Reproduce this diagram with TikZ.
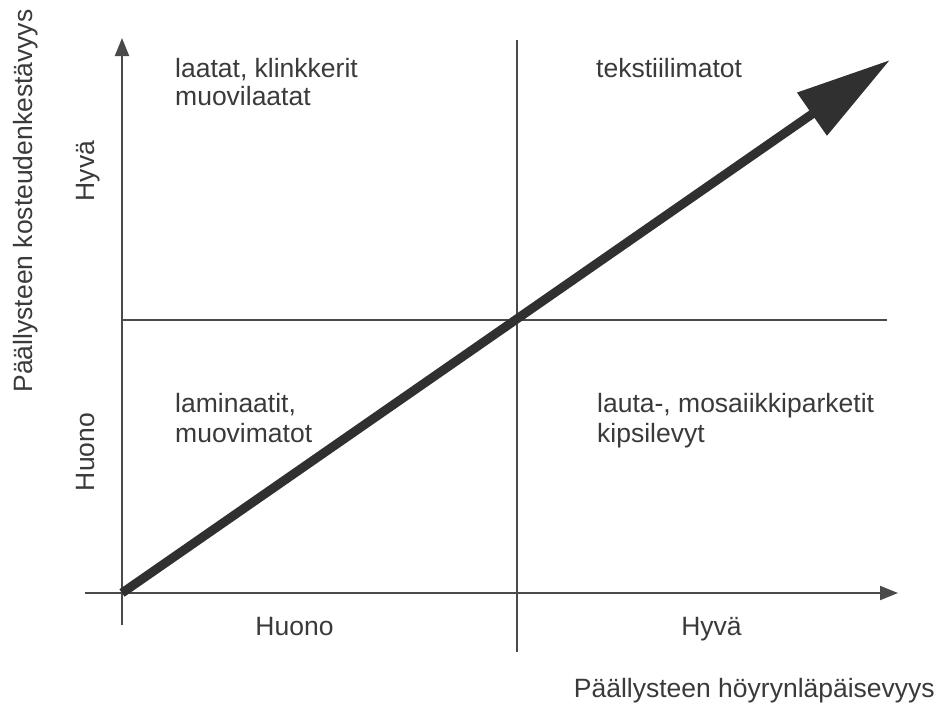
\documentclass[tikz,border=0pt]{standalone}
\usepackage{fontspec}
\setmainfont{Liberation Sans}
\usetikzlibrary{arrows.meta}
\definecolor{txt}{HTML}{3A3A3A}
\definecolor{ln}{HTML}{4A4A4A}
\definecolor{trendc}{HTML}{303030}
\begin{document}
\begin{tikzpicture}[x=1pt,y=-1pt,
  lbl/.style={font=\fontsize{26.5}{30}\selectfont, text=txt, inner sep=0pt},
  axis/.style={draw=ln, line width=2pt, -{Triangle[length=18pt,width=14pt]}},
  gridline/.style={draw=ln, line width=1.6pt},
  trend/.style={draw=trendc, line width=9pt, -{Triangle[length=95pt,width=50pt]}}]
\useasboundingbox[fill=white] (0,0) rectangle (940,707);
\coordinate (o) at (122,593);
\coordinate (ytop) at (122,38);
\coordinate (ybot) at (122,625);
\coordinate (xl) at (85,593);
\coordinate (xr) at (898,593);
\coordinate (vt) at (517,40);
\coordinate (vb) at (517,652);
\coordinate (hl) at (122,320);
\coordinate (hr) at (887,320);
\coordinate (tip) at (890,60);
\draw[axis] (ybot) -- (ytop);
\draw[axis] (xl) -- (xr);
\draw[gridline] (vt) -- (vb);
\draw[gridline] (hl) -- (hr);
\draw[trend] (o) -- (tip);
% quadrant texts
\node[lbl, anchor=base west] (q1a) at (175,77) {laatat, klinkkerit};
\node[lbl, anchor=base west] (q1b) at (175,105) {muovilaatat};
\node[lbl, anchor=base west] (q2a) at (596,77) {tekstiilimatot};
\node[lbl, anchor=base west] (q3a) at (175,412) {laminaatit,};
\node[lbl, anchor=base west] (q3b) at (175,442) {muovimatot};
\node[lbl, anchor=base west] (q4a) at (597,412) {lauta-, mosaiikkiparketit};
\node[lbl, anchor=base west] (q4b) at (597,442) {kipsilevyt};
% axis labels
\node[lbl, anchor=base] (xlo) at (294.5,635) {Huono};
\node[lbl, anchor=base] (xhi) at (711.5,635) {Hyvä};
\node[lbl, anchor=base east] (xtitle) at (935,697) {Päällysteen höyrynläpäisevyys};
\node[lbl, rotate=90, anchor=base] (yhi) at (94,171) {Hyvä};
\node[lbl, rotate=90, anchor=base] (ylo) at (94,452) {Huono};
\node[lbl, rotate=90, anchor=base] (ytitle) at (32,201) {Päällysteen kosteudenkestävyys};
\end{tikzpicture}
\end{document}
